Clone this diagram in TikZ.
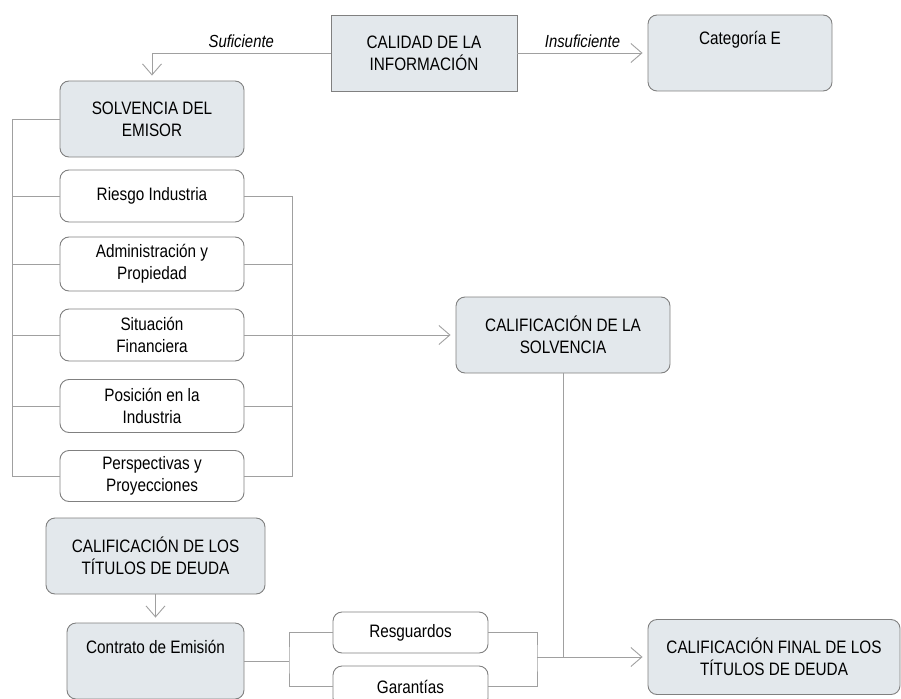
\documentclass[tikz,border=0pt]{standalone}
\usepackage{fontspec}
\setmainfont{Liberation Sans}[FakeStretch=0.85]
\usetikzlibrary{arrows.meta}

\definecolor{boxfill}{HTML}{E3E8EC}
\definecolor{boxline}{HTML}{808080}
\definecolor{wire}{HTML}{A0A0A0}

\tikzset{
  box/.style={draw=boxline, line width=0.9pt, align=center, inner sep=0pt,
    font=\fontsize{18}{22}\selectfont},
  grey/.style={box, fill=boxfill, rounded corners=9pt},
  plain/.style={box, fill=white, rounded corners=9pt},
  toptext/.style={text height=30pt, text depth=46pt},
  wire/.style={draw=wire, line width=0.9pt},
  arr/.style={wire, -{Straight Barb[length=11pt,width=19pt]}, shorten >=5pt},
  lbl/.style={font=\fontsize{17.5}{19}\selectfont\itshape}
}

\begin{document}
\begin{tikzpicture}[x=1pt,y=-1pt]
	\useasboundingbox (0,0) rectangle (901,698);

	% top row
	\node[box, fill=boxfill, minimum width=186pt, minimum height=76pt]
	  (calidad) at (424,53) {CALIDAD DE LA\\INFORMACI\'ON};
	\node[grey, toptext, minimum width=184pt] (catE) at (740,53) {Categor\'ia E};

	% solvencia del emisor
	\node[grey, minimum width=184pt, minimum height=76pt] (solv) at (152,119)
	  {SOLVENCIA DEL\\EMISOR};
	\node[plain, minimum width=184pt, minimum height=52pt] (riesgo) at (152,196)
	  {Riesgo Industria};
	\node[plain, minimum width=184pt, minimum height=54pt] (admin) at (152,264)
	  {Administraci\'on y\\Propiedad};
	\node[plain, minimum width=184pt, minimum height=52pt] (sit) at (152,335)
	  {Situaci\'on\\Financiera};
	\node[plain, minimum width=184pt, minimum height=53pt] (pos) at (152,406)
	  {Posici\'on en la\\Industria};
	\node[plain, minimum width=184pt, minimum height=51pt] (persp) at (152,476)
	  {Perspectivas y\\Proyecciones};

	\node[grey, minimum width=214pt, minimum height=76pt] (califSolv) at (563,335)
	  {CALIFICACI\'ON DE LA\\SOLVENCIA};

	% titulos de deuda
	\node[grey, minimum width=219pt, minimum height=76pt] (califTit) at (155.5,556)
	  {CALIFICACI\'ON DE LOS\\T\'ITULOS DE DEUDA};
	\node[grey, toptext, minimum width=177pt] (contrato) at (155.5,661)
	  {Contrato de Emisi\'on};
	\node[plain, minimum width=155pt, minimum height=41pt] (resg) at (410.5,632.5)
	  {Resguardos};
	\node[plain, minimum width=155pt, minimum height=41pt] (garant) at (410.5,686.5)
	  {Garant\'ias};
	\node[grey, minimum width=252pt, minimum height=75pt] (final) at (774,657)
	  {CALIFICACI\'ON FINAL DE LOS\\T\'ITULOS DE DEUDA};

	% brackets
	\coordinate (ltop) at (12,119); \coordinate (lbot) at (12,476);
	\coordinate (rtop) at (292,196); \coordinate (rbot) at (292,476);
	\coordinate (cjoin) at (289,661); \coordinate (gjoin) at (537,657);

	% connectors
	\draw[arr] (calidad.west) -| (solv.north)
	  node[lbl, pos=0.25, above=2pt] {Suficiente};
	\draw[arr] (calidad.east) -- (catE.west)
	  node[lbl, pos=0.5, above=2pt] {Insuficiente};

	\draw[wire] (solv.west) -- (ltop) -- (lbot) -- (persp.west);
	\draw[wire] (riesgo.east) -- (rtop) -- (rbot) -- (persp.east);
	\foreach \n in {riesgo,admin,sit,pos} {
	  \draw[wire] (\n.west) -- (ltop |- \n.west);
	}
	\foreach \n in {admin,pos} {
	  \draw[wire] (\n.east) -- (rtop |- \n.east);
	}
	\draw[arr] (sit.east) -- (califSolv.west);

	\draw[arr] (califTit.south) -- (contrato.north);
	\draw[wire] (contrato.east) -- (cjoin);
	\draw[wire] (resg.west) -| (cjoin) |- (garant.west);
	\draw[wire] (resg.east) -| (gjoin) |- (garant.east);
	\draw[wire] (califSolv.south) -- (califSolv.south |- final.west);
	\draw[arr] (gjoin) -- (final.west);
\end{tikzpicture}
\end{document}
